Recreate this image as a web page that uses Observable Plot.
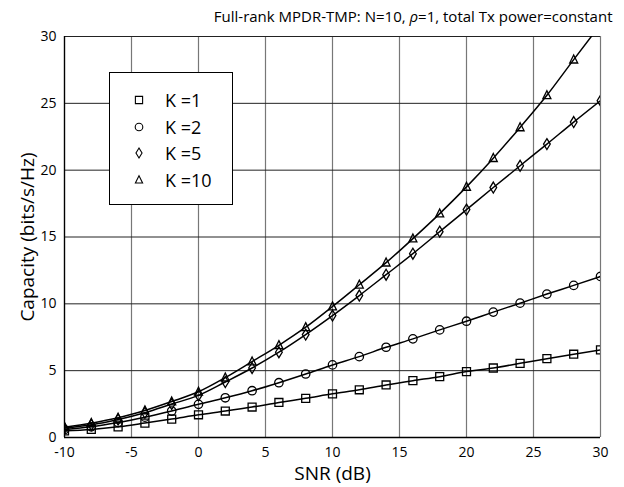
<!DOCTYPE html>
<html><head><meta charset="utf-8">
<script src="https://cdn.jsdelivr.net/npm/d3@7"></script>
<script src="https://cdn.jsdelivr.net/npm/@observablehq/plot@0.6"></script>
<style>
body{margin:0;background:#fff;font-family:"Open Sans",sans-serif}
#wrap{position:relative;width:624px;height:487px}
#legend{position:absolute;left:109px;top:72px;width:124px;height:133px;border:1px solid #000;background:#fff;box-sizing:border-box;padding-top:14px}
.row{display:flex;align-items:center;height:26.5px;font-size:18px}
.row svg{margin-left:23px;margin-right:20px}
</style></head><body>
<div id="wrap"><div id="chart"></div><div id="legend"></div></div>
<script>
const snr = [-10,-8,-6,-4,-2,0,2,4,6,8,10,12,14,16,18,20,22,24,26,28,30];
const k1  = [0.50,0.60,0.80,1.08,1.38,1.70,1.98,2.28,2.62,2.93,3.27,3.57,3.93,4.25,4.55,4.93,5.20,5.55,5.90,6.23,6.55];
const k2  = [0.60,0.80,1.12,1.52,1.98,2.48,2.97,3.50,4.10,4.75,5.43,6.05,6.75,7.38,8.05,8.70,9.38,10.05,10.73,11.38,12.05];
const k5  = [0.70,0.95,1.35,1.85,2.50,3.15,4.15,5.20,6.38,7.70,9.12,10.62,12.18,13.75,15.40,17.05,18.70,20.33,21.95,23.60,25.20];
const k10 = [0.77,1.07,1.47,2.02,2.69,3.42,4.48,5.68,6.90,8.25,9.80,11.43,13.08,14.88,16.75,18.75,20.90,23.20,25.60,28.27,30.90];
const seriesNames = ["K =1","K =2","K =5","K =10"];
const seriesValues = [k1,k2,k5,k10];
const xTicks = [-10,-5,0,5,10,15,20,25,30];
const yTicks = [0,5,10,15,20,25,30];
const titleText = "Full-rank MPDR-TMP: N=10, ρ=1, total Tx power=constant";

const diamond = {draw(ctx, size){const r=Math.sqrt(size/Math.PI);const h=r*1.3,w=r*0.8;ctx.moveTo(0,-h);ctx.lineTo(w,0);ctx.lineTo(0,h);ctx.lineTo(-w,0);ctx.closePath();}};
const square = {draw(ctx, size){const r=Math.sqrt(size/Math.PI)*0.95;ctx.moveTo(-r,-r);ctx.lineTo(r,-r);ctx.lineTo(r,r);ctx.lineTo(-r,r);ctx.closePath();}};
const triangle = {draw(ctx, size){const r=Math.sqrt(size/Math.PI);const h=r*1.0,w=r*0.95;ctx.moveTo(0,-h*1.1);ctx.lineTo(w,h*0.8);ctx.lineTo(-w,h*0.8);ctx.closePath();}};
const circle = "circle";
const symbols = [square, circle, diamond, triangle];

const marks = [
  Plot.ruleX(xTicks, {stroke:"#777", strokeWidth:1.2}),
  Plot.ruleY(yTicks, {stroke:"#222", strokeWidth:1}),
  Plot.ruleX([-10], {stroke:"#000", strokeWidth:1.3}),
  Plot.ruleY([0], {stroke:"#000", strokeWidth:1.3}),
  Plot.axisX({ticks:xTicks, tickSize:0, tickPadding:10, label:null, fontSize:14, tickFormat:d=>String(d)}),
  Plot.axisY({ticks:yTicks, tickSize:0, tickPadding:8, label:null, fontSize:14, tickFormat:d=>String(d)}),
];
seriesValues.forEach((vals, s) => {
  const d = snr.map((x,i) => ({x, y: vals[i], k: seriesNames[s]}));
  marks.push(Plot.line(d, {x:"x", y:"y", curve:"monotone-x", stroke:"#000", strokeWidth:1.5, clip:true}));
  marks.push(Plot.dot(d, {x:"x", y:"y", symbol: symbols[s], r:4.2, stroke:"#000", strokeWidth:1.3, fill:"none", clip:true}));
});
marks.push(Plot.text([titleText], {frameAnchor:"top-right", dx:12, dy:-25, textAnchor:"end", fontSize:15, className:"ttl"}));
marks.push(Plot.text(["SNR (dB)"], {frameAnchor:"bottom", dy:42, fontSize:19}));
marks.push(Plot.text(["Capacity (bits/s/Hz)"], {frameAnchor:"left", dx:-37, rotate:-90, textAnchor:"middle", fontSize:19}));

const chart = Plot.plot({
  width:624, height:487,
  marginLeft:64, marginRight:24, marginTop:36, marginBottom:50,
  style:{fontFamily:"'Open Sans', sans-serif", background:"white", color:"black", overflow:"visible"},
  x:{domain:[-10,30]},
  y:{domain:[0,30]},
  marks
});
document.getElementById("chart").appendChild(chart);
// italic rho in title
d3.select(chart).selectAll(".ttl text").each(function(){
  const t = d3.select(this); const parts = titleText.split("ρ");
  t.text(null);
  t.append("tspan").text(parts[0]);
  t.append("tspan").attr("font-style","italic").text("ρ");
  t.append("tspan").text(parts[1]);
});

const legend = d3.select("#legend");
seriesNames.forEach((name, s) => {
  const row = legend.append("div").attr("class","row");
  const svg = row.append("svg").attr("width",12).attr("height",14).attr("viewBox","-6 -7 12 14");
  const sym = typeof symbols[s] === "string" ? d3.symbolCircle : symbols[s];
  svg.append("path").attr("d", d3.symbol(sym, Math.PI*3.8*3.8)()).attr("fill","none").attr("stroke","#000").attr("stroke-width",1.1);
  row.append("span").text(name);
});
</script>
</body></html>
